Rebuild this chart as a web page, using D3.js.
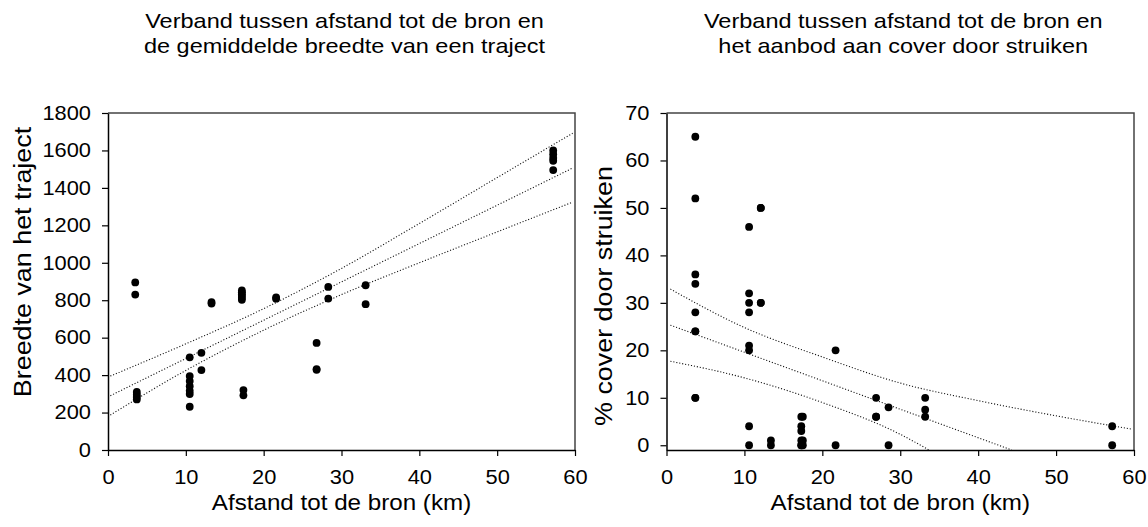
<!DOCTYPE html>
<html><head><meta charset="utf-8">
<script src="https://cdn.jsdelivr.net/npm/d3@7"></script>
<style>
body{margin:0;background:#fff;}
text{font-family:"Liberation Sans",Arial,sans-serif;fill:#000;}
</style></head>
<body><svg id="c" width="1148" height="527"></svg>
<script>
// ---------- data ----------
const titleLeft = ["Verband tussen afstand tot de bron en", "de gemiddelde breedte van een traject"];
const titleRight = ["Verband tussen afstand tot de bron en", "het aanbod aan cover door struiken"];
const xLabel = "Afstand tot de bron (km)";
const yLabelLeft = "Breedte van het traject";
const yLabelRight = "% cover door struiken";

const xTicks = [0, 10, 20, 30, 40, 50, 60];
const yTicksLeft = [0, 200, 400, 600, 800, 1000, 1200, 1400, 1600, 1800];
const yTicksRight = [0, 10, 20, 30, 40, 50, 60, 70];

// left panel: distance (km) vs width
const distLeft  = [3.5,3.5, 3.7,3.7,3.7,3.7, 10.5,10.5,10.5,10.5,10.5,10.5,10.5, 12.0,12.0, 13.3,13.3,
                   17.2,17.2,17.2,17.2,17.2,17.2, 17.4,17.4, 21.6,21.6, 26.8,26.8,26.8, 28.3,28.3, 33.1,33.1,
                   57.2,57.2,57.2,57.2,57.2];
const widthLeft = [895,830, 310,295,283,270, 495,395,368,341,316,299,231, 519,427, 790,782,
                   852,842,832,822,812,802, 320,292, 815,808, 572,432,428, 871,809, 880,779,
                   1600,1580,1560,1545,1495];

// right panel: distance (km) vs % cover
const distRight  = [3.7,3.7,3.7,3.7,3.7,3.7,3.7,3.7,3.7, 10.6,10.6,10.6,10.6,10.6,10.6,10.6,10.6,
                    12.1,12.1,12.1,12.1, 13.4,13.4, 17.3,17.3,17.3,17.3,17.3,17.3, 17.5,17.5,17.5,
                    21.7,21.7, 26.9,26.9,26.9, 28.5,28.5, 33.2,33.2,33.2, 57.2,57.2];
const coverRight = [65,52,36,34,28,24,24,10,10, 46,32,30,28,21,20,4,0,
                    50,50,30,30, 1,0, 6,4,3,1,0,0, 6,1,0,
                    20,0, 10,6,6, 8,0, 10,7.5,6, 4,0];

// regression line and confidence band
const fitXLeft = [0.3, 59.7];
const fitYLeft = [290, 1506];
const bandXLeft = [0.3, 10, 20, 30, 40, 50, 59.7];
const upperLeft = [395, 567, 755, 970, 1210, 1455, 1692];
const lowerLeft = [187, 425, 640, 830, 1000, 1165, 1324];

const fitXRight = [0.5, 44.3];
const fitYRight = [25.3, -1];
const upperXRight = [0.5, 10, 20, 30, 40, 50, 59.7];
const upperRight  = [32.9, 24.8, 18.6, 13.1, 9.4, 6.2, 3.4];
const lowerXRight = [0.5, 10, 20, 30, 33.7];
const lowerRight  = [17.7, 14.2, 9.0, 2.3, -1];

// ---------- drawing ----------
const svg = d3.select("#c");
const SX = 1.12; // horizontal glyph stretch

function stretchText(g, x, y, str, size, anchor, rot) {
  return g.append("text")
    .attr("transform", `translate(${x},${y})` + (rot ? ` rotate(${rot})` : "") + ` scale(${SX},1)`)
    .attr("text-anchor", anchor)
    .style("font-size", size + "px")
    .text(str);
}

function panel(cfg) {
  const x = d3.scaleLinear().domain([0, 60]).range([cfg.x0, cfg.x1]);
  const y = d3.scaleLinear().domain(cfg.yDomain).range([450, 113]);
  const g = svg.append("g");
  const clipId = "clip" + cfg.id;
  svg.append("clipPath").attr("id", clipId).append("rect")
    .attr("x", cfg.x0).attr("y", 113).attr("width", cfg.x1 - cfg.x0).attr("height", 337);

  // frame (top + right)
  g.append("path").attr("d", `M${cfg.x0},113H${cfg.x1}V450`)
    .attr("fill", "none").attr("stroke", "#444").attr("stroke-width", 1.5);

  // axes
  const ax = g.append("g").attr("transform", "translate(0,450)")
    .call(d3.axisBottom(x).tickValues(xTicks).tickSize(6).tickSizeOuter(0).tickPadding(14).tickFormat(d3.format("d")));
  const ay = g.append("g").attr("transform", `translate(${cfg.x0},0)`)
    .call(d3.axisLeft(y).tickValues(cfg.yTicks).tickSize(6).tickSizeOuter(0).tickPadding(11).tickFormat(d3.format("d")));
  [ax, ay].forEach(a => {
    a.select(".domain").attr("stroke", "#000").attr("stroke-width", 1.5);
    a.selectAll(".tick line").attr("stroke", "#000").attr("stroke-width", 1.2);
    a.selectAll(".tick text").style("font-size", "19.5px").attr("fill", "#000")
      .style("font-family", "'Liberation Sans',Arial,sans-serif");
  });
  ax.selectAll(".tick text").attr("transform", `scale(${SX},1)`);
  ay.selectAll(".tick text").attr("x", -17 / SX).attr("transform", `scale(${SX},1)`);

  // bands and fit
  const line = d3.line().x(d => x(d[0])).y(d => y(d[1])).curve(d3.curveMonotoneX);
  const lg = g.append("g").attr("clip-path", `url(#${clipId})`);
  [cfg.upper, cfg.fit, cfg.lower].forEach(pts => {
    lg.append("path").attr("d", line(pts)).attr("fill", "none")
      .attr("stroke", "#111").attr("stroke-width", 1.1).attr("stroke-dasharray", "1.1,1.9");
  });

  // points
  g.append("g").selectAll("circle").data(cfg.pts).join("circle")
    .attr("cx", d => x(d[0])).attr("cy", d => y(d[1])).attr("r", 3.9).attr("fill", "#000");

  // titles
  const cx = (cfg.x0 + cfg.x1) / 2 + 3;
  stretchText(g, cx, 28, cfg.title[0], 21, "middle");
  stretchText(g, cx, 53, cfg.title[1], 21, "middle");
  stretchText(g, (cfg.x0 + cfg.x1) / 2, 510, xLabel, 21.6, "middle");
  stretchText(g, cfg.yLabX, cfg.yLabY, cfg.yLabel, 24, "middle", -90);
}

panel({
  id: "L", x0: 108, x1: 575, yDomain: [0, 1800], yTicks: yTicksLeft,
  pts: distLeft.map((d, i) => [d, widthLeft[i]]),
  fit: fitXLeft.map((d, i) => [d, fitYLeft[i]]),
  upper: bandXLeft.map((d, i) => [d, upperLeft[i]]),
  lower: bandXLeft.map((d, i) => [d, lowerLeft[i]]),
  title: titleLeft, yLabel: yLabelLeft, yLabX: 31, yLabY: 262
});
panel({
  id: "R", x0: 666.5, x1: 1134, yDomain: [-1, 70], yTicks: yTicksRight,
  pts: distRight.map((d, i) => [d, coverRight[i]]),
  fit: fitXRight.map((d, i) => [d, fitYRight[i]]),
  upper: upperXRight.map((d, i) => [d, upperRight[i]]),
  lower: lowerXRight.map((d, i) => [d, lowerRight[i]]),
  title: titleRight, yLabel: yLabelRight, yLabX: 612, yLabY: 296
});
</script></body></html>
